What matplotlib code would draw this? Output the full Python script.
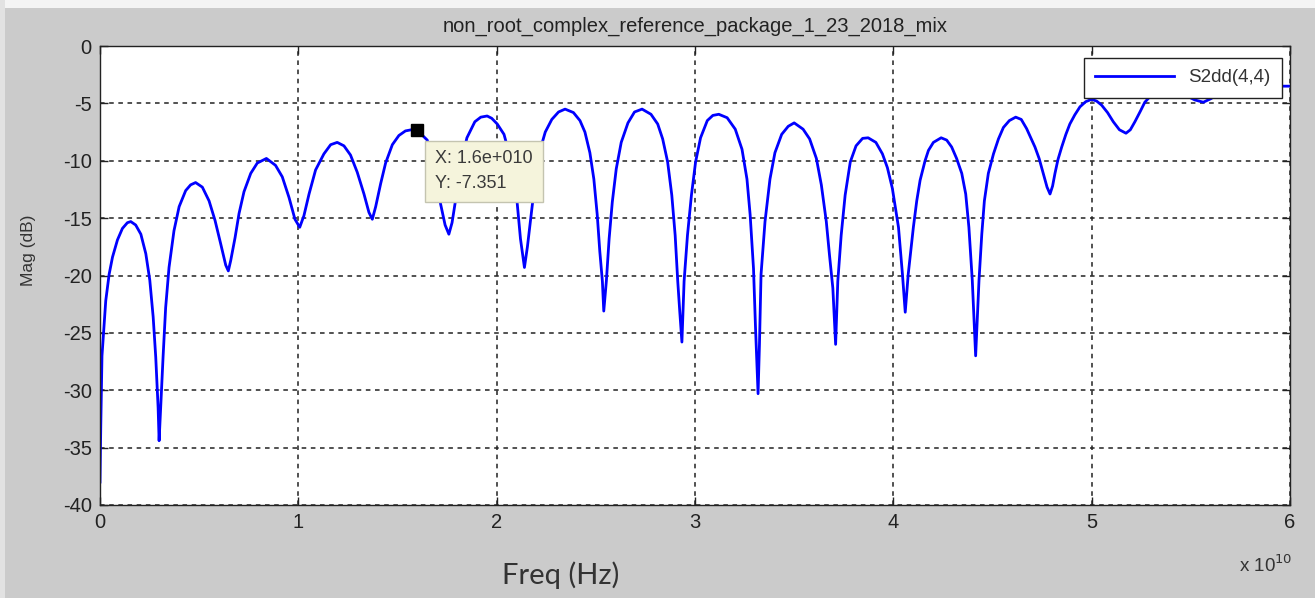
import matplotlib
matplotlib.use("Agg")
import matplotlib.pyplot as plt
from matplotlib.patches import Rectangle
import numpy as np

# values (frequency in units of 1e10 Hz, magnitude in dB)
freq_e10 = [
    0.000, 0.004, 0.010, 0.029, 0.046, 0.063, 0.088, 0.113, 0.138, 0.155, 0.180, 0.206, 0.231, 0.251, 0.268, 0.281, 0.293,
    0.298, 0.306, 0.318, 0.331, 0.348, 0.373, 0.399, 0.432, 0.457, 0.482, 0.516, 0.550, 0.580, 0.608, 0.634,
    0.647, 0.659, 0.681, 0.701, 0.726, 0.760, 0.793, 0.839, 0.885, 0.919, 0.953, 0.983,
    1.007, 1.028, 1.054, 1.087, 1.129, 1.163, 1.196, 1.230, 1.263, 1.297, 1.331, 1.356,
    1.373, 1.390, 1.415, 1.440, 1.474, 1.507, 1.540, 1.570, 1.600, 1.650, 1.690, 1.717, 1.740,
    1.759, 1.775, 1.790, 1.815, 1.850, 1.890, 1.920, 1.952, 1.975, 2.003, 2.037, 2.070, 2.103, 2.120,
    2.140, 2.155, 2.170, 2.195, 2.220, 2.245, 2.278, 2.312, 2.345, 2.387, 2.420, 2.445, 2.470, 2.490, 2.507, 2.520, 2.533,
    2.540, 2.553, 2.567, 2.583, 2.603, 2.628, 2.662, 2.695, 2.733, 2.778, 2.812, 2.837, 2.862, 2.883, 2.900, 2.913, 2.923,
    2.934, 2.945, 2.962, 2.982, 3.003, 3.028, 3.062, 3.090, 3.120, 3.162, 3.203, 3.237, 3.262, 3.278, 3.295, 3.305,
    3.318, 3.325, 3.333, 3.353, 3.378, 3.403, 3.437, 3.470, 3.500, 3.545, 3.578, 3.612, 3.637, 3.662, 3.678, 3.695,
    3.709, 3.720, 3.737, 3.757, 3.783, 3.812, 3.845, 3.873, 3.912, 3.945, 3.970, 3.995, 4.026, 4.046,
    4.060, 4.075, 4.101, 4.118, 4.135, 4.160, 4.177, 4.202, 4.241, 4.269, 4.294, 4.319, 4.345, 4.365, 4.381, 4.398,
    4.415, 4.432, 4.446, 4.459, 4.479, 4.505, 4.530, 4.555, 4.585, 4.617, 4.645, 4.672, 4.714, 4.735, 4.756, 4.775,
    4.790, 4.803, 4.815, 4.830, 4.849, 4.870, 4.890, 4.915, 4.941, 4.970, 5.000, 5.025, 5.050, 5.080, 5.109, 5.140,
    5.173, 5.195, 5.218, 5.245, 5.268, 5.300, 5.340, 5.380, 5.450, 5.520, 5.563, 5.600, 5.680, 5.800, 6.000,
]
mag_db = [
    -38.0, -33.0, -27.0, -22.2, -19.9, -18.4, -16.9, -15.9, -15.4, -15.3, -15.6, -16.4, -18.1, -20.4, -23.6, -27.1, -31.5,
    -34.4, -31.5, -27.1, -22.8, -19.3, -16.1, -14.0, -12.6, -12.1, -11.9, -12.3, -13.5, -15.2, -17.2, -19.1,
    -19.6, -18.7, -16.7, -14.6, -12.7, -11.1, -10.2, -9.8, -10.4, -11.4, -13.2, -15.1,
    -15.8, -14.8, -12.9, -10.8, -9.4, -8.6, -8.4, -8.7, -9.5, -11.0, -12.9, -14.5,
    -15.1, -14.0, -12.0, -10.2, -8.6, -7.8, -7.4, -7.3, -7.351, -8.2, -10.6, -13.75, -15.6,
    -16.4, -15.4, -13.75, -10.6, -8.0, -6.6, -6.2, -6.1, -6.3, -6.8, -7.7, -9.8, -13.6, -16.8,
    -19.3, -17.5, -15.3, -11.6, -9.0, -7.5, -6.4, -5.75, -5.5, -5.8, -6.5, -7.5, -9.3, -11.6, -14.7, -17.9, -20.5,
    -23.1, -20.5, -16.8, -13.6, -10.7, -8.4, -6.7, -5.75, -5.5, -5.95, -6.8, -8.1, -10.1, -13.0, -16.5, -20.5, -23.1,
    -25.8, -20.5, -16.5, -13.0, -10.1, -8.0, -6.5, -6.05, -5.95, -6.25, -7.25, -9.0, -11.6, -14.7, -19.4, -24.5,
    -30.3, -26.0, -19.9, -15.3, -11.6, -9.3, -7.7, -7.0, -6.7, -7.25, -8.1, -9.8, -12.1, -15.3, -18.2, -21.1,
    -26.0, -20.5, -16.5, -13.0, -10.1, -8.7, -8.05, -8.0, -8.4, -9.4, -10.6, -12.4, -15.8, -19.9,
    -23.2, -19.9, -15.8, -13.5, -11.7, -10.0, -9.1, -8.4, -8.0, -8.2, -8.8, -9.8, -11.1, -12.9, -15.8, -20.4,
    -27.0, -20.4, -16.4, -13.5, -11.1, -9.4, -8.1, -7.1, -6.5, -6.2, -6.4, -7.2, -8.8, -9.8, -11.1, -12.3,
    -12.9, -12.2, -11.1, -9.9, -8.8, -7.7, -6.8, -6.0, -5.3, -4.85, -4.65, -4.8, -5.15, -5.8, -6.6, -7.3,
    -7.6, -7.3, -6.6, -5.7, -4.9, -4.3, -3.9, -3.8, -4.1, -4.7, -4.9, -4.6, -3.8, -3.5, -3.5,
]
tip_x = 1.6e10
tip_y = -7.351
x_ticks = [0, 1, 2, 3, 4, 5, 6]
y_ticks = [0, -5, -10, -15, -20, -25, -30, -35, -40]

plt.rcParams['font.family'] = ['Liberation Sans', 'DejaVu Sans']

fig = plt.figure(figsize=(13.15, 5.98), dpi=100, facecolor='#cbcbcb')
ax = fig.add_axes([100/1315, 1 - 505/598, 1190/1315, 459/598])

# thin light strips at the edges of the screenshot
fig.patches.append(Rectangle((0, 1 - 8/598), 1, 8/598, transform=fig.transFigure,
                             facecolor='#f4f4f4', edgecolor='none', zorder=-5))
fig.patches.append(Rectangle((0, 0), 5/1315, 1, transform=fig.transFigure,
                             facecolor='#e2e2e2', edgecolor='none', zorder=-5))

freq = np.array(freq_e10) * 1e10
ax.plot(freq, mag_db, color='#0000ff', lw=2.0, label='S2dd(4,4)',
        solid_joinstyle='round')
ax.plot(tip_x, tip_y, 's', color='k', ms=9, zorder=5)

ax.set_xlim(0, 6e10)
ax.set_ylim(-40, 0)
ax.set_xticks([t * 1e10 for t in x_ticks])
ax.set_xticklabels([str(t) for t in x_ticks])
ax.set_yticks(y_ticks)
ax.set_yticklabels([str(t) for t in y_ticks])

ax.grid(True, color='#222222', linestyle=(0, (3, 3)), lw=1.1)
ax.tick_params(direction='in', top=True, right=True, length=6, width=1,
               labelsize=14.5, colors='#222222', pad=6)
for s in ax.spines.values():
    s.set_color('#222222')
    s.set_linewidth(1.0)

ax.set_title('non_root_complex_reference_package_1_23_2018_mix',
             fontsize=14.5, color='#222222', pad=10.5)
ax.set_ylabel('Mag (dB)', fontsize=12.5, color='#333333')
ax.yaxis.set_label_coords(-0.054, 0.555)

fig.text(561/1315, 1 - 575/598, 'Freq (Hz)', family=['Lato', 'DejaVu Sans'],
         fontsize=21, color='#333333', ha='center', va='center')
fig.text(1292/1315, 1 - 572/598, r'x 10$^{10}$', fontsize=13.5, color='#333333',
         ha='right', va='baseline')

ax.annotate('X: 1.6e+010\nY: -7.351', xy=(tip_x, tip_y), xytext=(13, -14.5),
            textcoords='offset points', ha='left', va='top', fontsize=13,
            color='#3a3a3a', linespacing=1.55,
            bbox=dict(boxstyle='square,pad=0.55', fc='#f5f4dc', ec='#c4c4b0', lw=1),
            zorder=6)

leg = ax.legend(loc='upper right', bbox_to_anchor=(1 - 8/1190, 1 - 12/459),
                fontsize=13.5, handlelength=4.2, fancybox=False, framealpha=1,
                edgecolor='#222222', borderaxespad=0, borderpad=0.6)
leg.get_frame().set_linewidth(1.0)
for t in leg.get_texts():
    t.set_color('#333333')

fig.savefig('out.png', dpi=100, facecolor=fig.get_facecolor())
